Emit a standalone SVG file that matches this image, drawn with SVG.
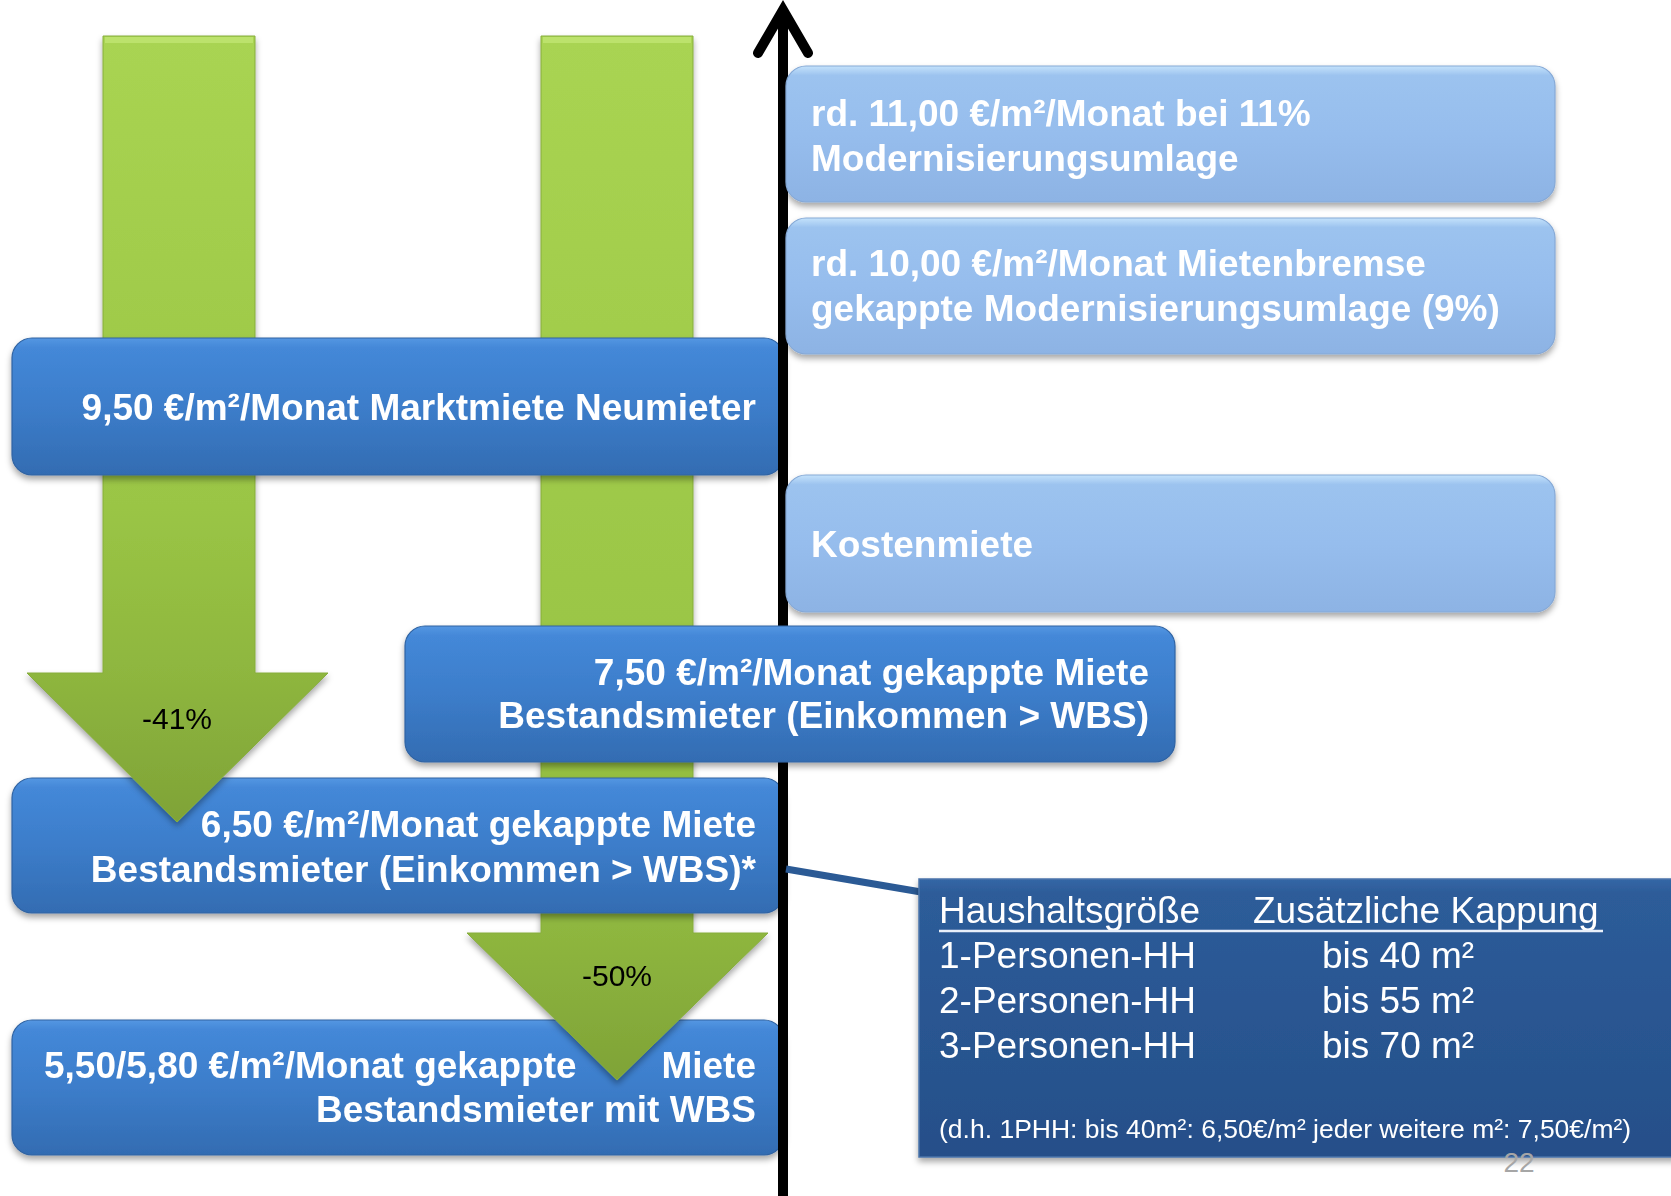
<svg xmlns="http://www.w3.org/2000/svg" width="1671" height="1196" viewBox="0 0 1671 1196">
<defs>
<style>
.bt{font-family:"Liberation Sans",Arial,sans-serif;font-weight:bold;font-size:37px;fill:#ffffff}
.rt{font-family:"Liberation Sans",Arial,sans-serif;font-size:37px;fill:#ffffff}
.pct{font-family:"Liberation Sans",Arial,sans-serif;font-size:30px;fill:#000000;text-anchor:middle}
.end{text-anchor:end}
.blue{fill:url(#gBlue);stroke:#3063a2;stroke-width:1.2}
.light{fill:url(#gLight);stroke:#86a9d6;stroke-width:1.2}
</style>
<linearGradient id="gBlue" x1="0" y1="0" x2="0" y2="1">
<stop offset="0" stop-color="#5597e2"/>
<stop offset="0.07" stop-color="#4488d8"/>
<stop offset="0.5" stop-color="#3c7dca"/>
<stop offset="1" stop-color="#336cb2"/>
</linearGradient>
<linearGradient id="gLight" x1="0" y1="0" x2="0" y2="1">
<stop offset="0" stop-color="#c4e2fb"/>
<stop offset="0.07" stop-color="#9cc3ef"/>
<stop offset="0.5" stop-color="#96bded"/>
<stop offset="1" stop-color="#8db3e4"/>
</linearGradient>
<linearGradient id="gTable" x1="0" y1="0" x2="0" y2="1">
<stop offset="0" stop-color="#3467a6"/>
<stop offset="0.05" stop-color="#2d5c99"/>
<stop offset="1" stop-color="#254f89"/>
</linearGradient>
<linearGradient id="gGreenL" gradientUnits="userSpaceOnUse" x1="0" y1="36" x2="0" y2="822">
<stop offset="0" stop-color="#a9d452"/>
<stop offset="0.6" stop-color="#9ac545"/>
<stop offset="0.8" stop-color="#8fb73f"/>
<stop offset="1" stop-color="#7fa337"/>
</linearGradient>
<linearGradient id="gGreenR" gradientUnits="userSpaceOnUse" x1="0" y1="36" x2="0" y2="1080">
<stop offset="0" stop-color="#a9d452"/>
<stop offset="0.6" stop-color="#9ac545"/>
<stop offset="0.85" stop-color="#8fb73f"/>
<stop offset="1" stop-color="#7fa337"/>
</linearGradient>
<filter id="sh" x="-5%" y="-10%" width="110%" height="130%">
<feDropShadow dx="0" dy="4" stdDeviation="3" flood-color="#000" flood-opacity="0.35"/>
</filter>
</defs>
<rect width="1671" height="1196" fill="#ffffff"/>

<g id="box-550" filter="url(#sh)">
<rect class="blue" x="12" y="1020" width="772" height="135" rx="20"/>
<text class="bt" x="44" y="1078">5,50/5,80 €/m²/Monat gekappte</text>
<text class="bt end" x="756" y="1078">Miete</text>
<text class="bt end" x="756" y="1122">Bestandsmieter mit WBS</text>
</g>

<g id="arrow-right" filter="url(#sh)">
<path d="M541,36 H693 V933 H768 L617,1080 L467,933 H541 Z" fill="url(#gGreenR)" stroke="#86ad3d" stroke-width="1"/>
<rect x="543" y="37" width="148" height="6" fill="#c4e878" opacity="0.7"/>
<text class="pct" x="617" y="986">-50%</text>
</g>

<g id="box-650" filter="url(#sh)">
<rect class="blue" x="12" y="778" width="772" height="135" rx="20"/>
<text class="bt end" x="756" y="837">6,50 €/m²/Monat gekappte Miete</text>
<text class="bt end" x="756" y="882">Bestandsmieter (Einkommen &gt; WBS)*</text>
</g>

<g id="arrow-left" filter="url(#sh)">
<path d="M103,36 H255 V673 H328 L177,822 L27,673 H103 Z" fill="url(#gGreenL)" stroke="#86ad3d" stroke-width="1"/>
<rect x="105" y="37" width="148" height="6" fill="#c4e878" opacity="0.7"/>
<text class="pct" x="177" y="729">-41%</text>
</g>

<g id="box-950" filter="url(#sh)">
<rect class="blue" x="12" y="338" width="772" height="137" rx="20"/>
<text class="bt end" x="756" y="420">9,50 €/m²/Monat Marktmiete Neumieter</text>
</g>

<g id="axis">
<line x1="783" y1="12" x2="783" y2="1196" stroke="#000" stroke-width="10"/>
<polyline points="758,53 783,10 808,53" fill="none" stroke="#000" stroke-width="10" stroke-linecap="round" stroke-linejoin="miter"/>
</g>

<g id="box-750" filter="url(#sh)">
<rect class="blue" x="405" y="626" width="770" height="136" rx="20"/>
<text class="bt end" x="1149" y="685">7,50 €/m²/Monat gekappte Miete</text>
<text class="bt end" x="1149" y="728">Bestandsmieter (Einkommen &gt; WBS)</text>
</g>

<g id="box-1100" filter="url(#sh)">
<rect class="light" x="786" y="66" width="769" height="136" rx="20"/>
<text class="bt" x="811" y="126">rd. 11,00 €/m²/Monat bei 11%</text>
<text class="bt" x="811" y="171">Modernisierungsumlage</text>
</g>

<g id="box-1000" filter="url(#sh)">
<rect class="light" x="786" y="218" width="769" height="136" rx="20"/>
<text class="bt" x="811" y="276">rd. 10,00 €/m²/Monat Mietenbremse</text>
<text class="bt" x="811" y="321">gekappte Modernisierungsumlage (9%)</text>
</g>

<g id="box-kosten" filter="url(#sh)">
<rect class="light" x="786" y="475" width="769" height="137" rx="20"/>
<text class="bt" x="811" y="557">Kostenmiete</text>
</g>

<g id="connectors">
<line x1="786" y1="869" x2="921" y2="892" stroke="#2b5a95" stroke-width="7"/>
</g>

<g id="table" filter="url(#sh)">
<rect x="919" y="879" width="760" height="278" fill="url(#gTable)" stroke="#4a74aa" stroke-width="1.5"/>
<text class="rt" x="939" y="923">Haushaltsgröße</text>
<text class="rt" x="1253" y="923">Zusätzliche Kappung</text>
<line x1="939" y1="931" x2="1603" y2="931" stroke="#e8f0fa" stroke-width="2.5"/>
<text class="rt" x="939" y="968">1-Personen-HH</text>
<text class="rt" x="1322" y="968">bis 40 m²</text>
<text class="rt" x="939" y="1013">2-Personen-HH</text>
<text class="rt" x="1322" y="1013">bis 55 m²</text>
<text class="rt" x="939" y="1058">3-Personen-HH</text>
<text class="rt" x="1322" y="1058">bis 70 m²</text>
<text class="rt" x="939" y="1138" style="font-size:26.5px">(d.h. 1PHH: bis 40m²: 6,50€/m² jeder weitere m²: 7,50€/m²)</text>
</g>

<text x="1519" y="1172" text-anchor="middle" style="font-family:'Liberation Sans',Arial,sans-serif;font-size:28px;fill:#a6a6a6">22</text>
</svg>
